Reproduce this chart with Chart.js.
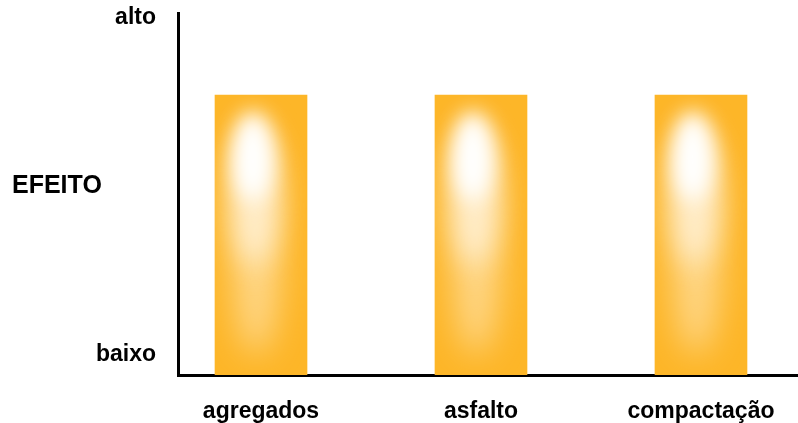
<!DOCTYPE html>
<html>
<head>
<meta charset="utf-8">
<script src="https://cdn.jsdelivr.net/npm/chart.js@4.4.1/dist/chart.umd.min.js"></script>
<style>
  html, body { margin: 0; padding: 0; background: #fff; }
  #wrap { width: 798px; height: 423px; position: relative; }
</style>
</head>
<body>
<div id="wrap"><canvas id="chart"></canvas></div>
<script>
// data
const categories = ['agregados', 'asfalto', 'compactação'];
const positions = [1, 2, 3];
const effect = [77.3, 77.3, 77.3];
const yTickValues = [5.5, 98.6];
const yTickLabels = ['baixo', 'alto'];
const yTitle = 'EFEITO';

const barOrange = '#FDB628';
const labelFont = { family: '"Liberation Sans", Arial, sans-serif', weight: 'bold', size: 23 };

// soft white glow over each bar
const glowPlugin = {
  id: 'glow',
  afterDatasetsDraw(chart) {
    const ctx = chart.ctx;
    chart.getDatasetMeta(0).data.forEach(function (bar) {
      const p = bar.getProps(['x', 'y', 'base', 'width'], true);
      const left = p.x - p.width / 2, top = p.y, h = p.base - p.y, w = p.width;
      ctx.save();
      ctx.beginPath();
      ctx.rect(left, top, w, h);
      ctx.clip();
      // wide faint light down the middle
      ctx.filter = 'blur(16px)';
      ctx.fillStyle = 'rgba(255,236,200,0.6)';
      ctx.beginPath();
      ctx.ellipse(left + w * 0.45, top + h * 0.55, w * 0.26, h * 0.38, 0, 0, Math.PI * 2);
      ctx.fill();
      // paler upper half
      ctx.filter = 'blur(14px)';
      ctx.fillStyle = 'rgba(255,246,228,0.75)';
      ctx.beginPath();
      ctx.ellipse(left + w * 0.43, top + h * 0.35, w * 0.27, h * 0.26, 0, 0, Math.PI * 2);
      ctx.fill();
      // white core near the top
      ctx.filter = 'blur(10px)';
      ctx.fillStyle = 'rgba(255,255,255,1)';
      ctx.beginPath();
      ctx.ellipse(left + w * 0.41, top + h * 0.22, w * 0.22, h * 0.16, 0, 0, Math.PI * 2);
      ctx.fill();
      ctx.restore();
    });
  }
};

// horizontal y title at the left
const yTitlePlugin = {
  id: 'ytitle',
  afterDraw(chart) {
    const ctx = chart.ctx;
    const y = chart.scales.y.getPixelForValue(52.2);
    ctx.save();
    ctx.font = 'bold 25px "Liberation Sans", Arial, sans-serif';
    ctx.fillStyle = '#000';
    ctx.textAlign = 'left';
    ctx.textBaseline = 'middle';
    ctx.fillText(yTitle, 12, y);
    ctx.restore();
  }
};

new Chart(document.getElementById('chart'), {
  type: 'bar',
  data: {
    datasets: [{
      data: positions.map((x, i) => ({ x: x, y: effect[i] })),
      backgroundColor: barOrange,
      borderWidth: 0,
      barThickness: 92
    }]
  },
  options: {
    responsive: true,
    maintainAspectRatio: false,
    animation: false,
    layout: { padding: { top: 13, right: 0, left: 0, bottom: 0 } },
    plugins: { legend: { display: false }, tooltip: { enabled: false } },
    scales: {
      x: {
        type: 'linear',
        offset: false,
        min: 0.6227,
        max: 3.441,
        grid: { display: false },
        border: { display: true, color: '#000', width: 3 },
        afterBuildTicks(scale) { scale.ticks = positions.map(v => ({ value: v })); },
        afterFit(scale) { scale.height = 48; scale.paddingLeft = 0; scale.paddingRight = 0; },
        ticks: {
          padding: 15,
          color: '#000',
          font: labelFont,
          autoSkip: false,
          maxRotation: 0,
          callback: (v) => categories[positions.indexOf(v)]
        }
      },
      y: {
        min: 0,
        max: 100,
        grid: { display: false },
        border: { display: true, color: '#000', width: 3 },
        afterBuildTicks(scale) { scale.ticks = yTickValues.map(v => ({ value: v })); },
        afterFit(scale) { scale.width = 178; scale.paddingTop = 0; scale.paddingBottom = 0; },
        ticks: {
          padding: 14,
          color: '#000',
          font: labelFont,
          callback: (v) => yTickLabels[yTickValues.indexOf(v)]
        }
      }
    }
  },
  plugins: [glowPlugin, yTitlePlugin]
});
</script>
</body>
</html>
